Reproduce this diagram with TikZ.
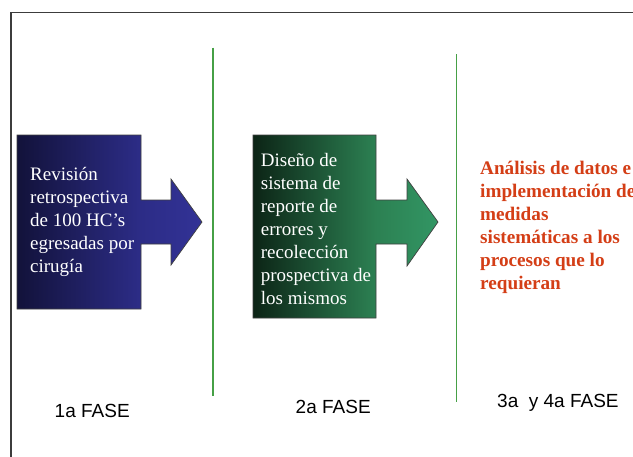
\documentclass[tikz,border=0pt]{standalone}
\usepackage{fontspec}
\setmainfont{Liberation Serif}
\newfontfamily\arialf{Liberation Sans}
\definecolor{bluea}{RGB}{18,18,58}
\definecolor{blueb}{RGB}{44,44,134}
\definecolor{bluec}{RGB}{50,50,150}
\definecolor{greena}{RGB}{12,36,22}
\definecolor{greenb}{RGB}{44,128,82}
\definecolor{greenc}{RGB}{50,150,100}
\definecolor{redtxt}{RGB}{212,62,22}
\definecolor{sepgreen}{RGB}{70,160,70}
\definecolor{framegray}{RGB}{60,60,60}
\pgfdeclarehorizontalshading{blueshade}{100bp}{color(0bp)=(bluea); color(25bp)=(bluea); color(58bp)=(blueb); color(75bp)=(bluec); color(100bp)=(bluec)}
\pgfdeclarehorizontalshading{greenshade}{100bp}{color(0bp)=(greena); color(25bp)=(greena); color(58bp)=(greenb); color(75bp)=(greenc); color(100bp)=(greenc)}
\tikzset{
  phasearrow/.style={draw=black!75, line width=0.7pt},
  wtext/.style={anchor=base west, inner sep=0pt, text=white, font=\fontsize{19}{23}\selectfont},
  rtext/.style={anchor=base west, inner sep=0pt, text=redtxt, font=\fontsize{19.2}{23}\selectfont\bfseries},
  fase/.style={anchor=base west, inner sep=0pt, text=black, font=\arialf\fontsize{19}{23}\selectfont},
  sepline/.style={draw=sepgreen, line width=1.2pt},
}
\begin{document}
\begin{tikzpicture}[x=1pt,y=-1pt]
\useasboundingbox (0,0) rectangle (633,456);
\clip (0,0) rectangle (633,456);
\fill[white] (0,0) rectangle (633,456);
% frame
\draw[framegray, line width=1.3pt] (11,460) -- (11,12.5) -- (640,12.5);
% separators
\coordinate (s1t) at (213,47.5);
\coordinate (s1b) at (213,395.5);
\coordinate (s2t) at (456.5,54);
\coordinate (s2b) at (456.5,402);
\draw[sepline] (s1t) -- (s1b);
\draw[sepline] (s2t) -- (s2b);
% arrow 1
\path[phasearrow, shading=blueshade] (17,135) -- (141,135) -- (141,200) -- (171,200) -- (171,179) -- (202,222) -- (171,265) -- (171,244) -- (141,244) -- (141,309) -- (17,309) -- cycle;
% arrow 2
\path[phasearrow, shading=greenshade] (253,135) -- (376,135) -- (376,200) -- (407,200) -- (407,179) -- (438,222) -- (407,266) -- (407,244) -- (376,244) -- (376,318) -- (253,318) -- cycle;
% texts arrow 1
\foreach [count=\i] \t in {Revisión, retrospectiva, de 100 HC’s, egresadas por, cirugía}
  \node[wtext] (a\i) at (30,{180.7+23*(\i-1)}) {\t};
% texts arrow 2
\foreach [count=\i] \t in {Diseño de, sistema de, reporte de, errores y, recolección, prospectiva de, los mismos}
  \node[wtext] (b\i) at (260.7,{166.7+23*(\i-1)}) {\t};
% text 3
\foreach [count=\i] \t in {Análisis de datos e, implementación de, medidas, sistemáticas a los, procesos que lo, requieran}
  \node[rtext] (c\i) at (480,{174+23*(\i-1)}) {\t};
% phase labels
\node[fase] (f1) at (54.5,417.3) {1a FASE};
\node[fase] (f2) at (295.5,413.3) {2a FASE};
\node[fase] (f3) at (497,407.3) {3a\ \ y 4a FASE};
\end{tikzpicture}
\end{document}
